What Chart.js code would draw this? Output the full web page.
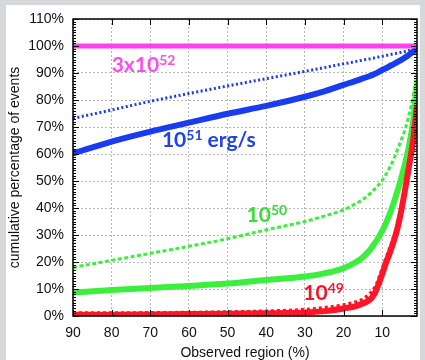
<!DOCTYPE html>
<html>
<head>
<meta charset="utf-8">
<script src="https://cdn.jsdelivr.net/npm/chart.js@4.4.0/dist/chart.umd.min.js"></script>
<style>
html, body { margin: 0; padding: 0; }
body { width: 425px; height: 360px; background: #d6d9dc; position: relative; overflow: hidden; }
#panel { position: absolute; left: 6px; top: 5px; width: 414px; height: 355px; background: #fff; }
#chart { position: absolute; left: 0; top: 0; }
</style>
</head>
<body>
<div id="panel"></div>
<canvas id="chart" width="425" height="360"></canvas>
<script>
// observed region (%) - x axis runs backwards from 90 to 1
const region = [90, 80, 70, 60, 50, 40, 30, 25, 20, 17, 15, 13, 12, 11, 10, 9, 8, 7, 6, 5, 4, 3, 2, 1];
const xTicks = [90, 80, 70, 60, 50, 40, 30, 20, 10];

// cumulative percentage of events, one list per curve
const lum52 = [100, 100, 100, 100, 100, 100, 100, 100, 100, 100, 100, 100, 100, 100, 100, 100, 100, 100, 100, 100, 100, 100, 100, 100];
const lum51Dot = [73.2, 76.3, 79.5, 82.4, 85.2, 87.9, 90.6, 92.0, 93.4, 94.2, 94.8, 95.3, 95.6, 95.9, 96.2, 96.5, 96.8, 97.1, 97.4, 97.7, 98.0, 98.4, 98.9, 99.6];
const lum51 = [60.2, 64.6, 68.3, 71.6, 74.9, 77.8, 81.2, 83.2, 85.6, 87.0, 88.0, 89.0, 89.6, 90.3, 91.1, 91.8, 92.6, 93.3, 94.1, 94.9, 95.8, 96.8, 97.9, 99.2];
const lum50Dash = [18.0, 20.6, 23.2, 25.8, 28.6, 31.9, 35.0, 37.0, 39.3, 41.5, 43.2, 45.5, 47.0, 48.5, 50.2, 52.5, 55.2, 58.2, 61.8, 65.5, 69.5, 75.0, 81.5, 91.0];
const lum50 = [8.7, 9.6, 10.4, 11.1, 12.0, 13.3, 14.6, 15.8, 17.7, 19.8, 21.8, 24.8, 26.8, 29.0, 31.5, 34.5, 38.0, 42.0, 46.5, 51.5, 57.0, 63.5, 72.0, 86.0];
const lum49Dot = [1.0, 1.0, 1.1, 1.2, 1.4, 1.7, 2.3, 3.0, 4.0, 5.0, 6.2, 8.4, 10.2, 13.2, 17.2, 21.2, 25.0, 29.0, 34.0, 40.5, 48.5, 57.0, 66.0, 79.0];
const lum49 = [0.5, 0.5, 0.6, 0.7, 0.8, 1.0, 1.3, 1.8, 2.8, 3.6, 4.6, 6.3, 8.2, 11.5, 15.5, 19.8, 23.5, 27.8, 32.8, 39.5, 47.5, 56.0, 65.0, 78.0];

const MAGENTA = '#ff40ee';
const BLUE = '#1a3cf0';
const GREEN = '#3cef3c';
const RED = '#ff1428';

function pts(vals) {
    return region.map((x, i) => ({ x: x, y: vals[i] }));
}

function line(vals, color, width, dash, order) {
    return {
        data: pts(vals),
        borderColor: color,
        borderWidth: width,
        borderDash: dash || [],
        borderCapStyle: 'butt',
        pointRadius: 0,
        fill: false,
        cubicInterpolationMode: 'monotone',
        order: order
    };
}

// text labels placed in data units (x = region, y = percent at baseline)
const curveLabels = [
    { x: 80.0, y: 90.3, color: '#ff4cee', parts: [['3x10', false], ['52', true]] },
    { x: 67.0, y: 62.5, color: '#1d44ec', parts: [['10', false], ['51', true], [' erg/s', false]] },
    { x: 45.1, y: 34.7, color: '#36e036', parts: [['10', false], ['50', true]] },
    { x: 30.4, y: 5.9, color: '#f0162a', parts: [['10', false], ['49', true]] }
];

const frameAndLabels = {
    id: 'frameAndLabels',
    afterDatasetsDraw(chart) {
        const ctx = chart.ctx;
        const a = chart.chartArea;
        const xs = chart.scales.x;
        const ys = chart.scales.y;
        ctx.save();

        // frame
        ctx.strokeStyle = '#000';
        ctx.lineWidth = 1.5;
        ctx.strokeRect(a.left, a.top, a.right - a.left, a.bottom - a.top);

        // y ticks (major every 10, minor every 1) on both sides
        ctx.lineWidth = 1;
        for (let v = 0; v <= 110; v++) {
            const y = Math.round(ys.getPixelForValue(v)) + 0.5;
            const len = v % 10 === 0 ? 6 : 3;
            ctx.beginPath();
            ctx.moveTo(a.left, y); ctx.lineTo(a.left + len, y);
            ctx.moveTo(a.right, y); ctx.lineTo(a.right - len, y);
            ctx.stroke();
        }
        // x ticks top and bottom
        xTicks.forEach(v => {
            const x = Math.round(xs.getPixelForValue(v)) + 0.5;
            ctx.beginPath();
            ctx.moveTo(x, a.top); ctx.lineTo(x, a.top + 6);
            ctx.moveTo(x, a.bottom); ctx.lineTo(x, a.bottom - 6);
            ctx.stroke();
        });

        // curve labels
        ctx.textBaseline = 'alphabetic';
        ctx.textAlign = 'left';
        curveLabels.forEach(lb => {
            let x = xs.getPixelForValue(lb.x);
            const y = ys.getPixelForValue(lb.y);
            ctx.fillStyle = lb.color;
            lb.parts.forEach(([t, sup]) => {
                ctx.font = sup ? 'bold 14px Lato' : 'bold 21px Lato';
                ctx.fillText(t, x, sup ? y - 7.5 : y);
                x += ctx.measureText(t).width;
            });
        });
        ctx.restore();
    }
};

const tickFont = { family: 'Liberation Sans', size: 14 };

new Chart(document.getElementById('chart'), {
    type: 'line',
    data: {
        datasets: [
            line(lum52, MAGENTA, 5, null, 0),
            line(lum51Dot, BLUE, 3, [2, 2.5], 6),
            line(lum51, BLUE, 6, null, 5),
            line(lum50Dash, GREEN, 3, [4, 2.5], 4),
            line(lum50, GREEN, 6, null, 3),
            line(lum49Dot, RED, 4, [3, 3], 2),
            line(lum49, RED, 6, null, 1)
        ]
    },
    options: {
        responsive: false,
        animation: false,
        layout: { padding: { left: 2, right: 8, top: 19, bottom: 0 } },
        plugins: { legend: { display: false }, tooltip: { enabled: false } },
        scales: {
            x: {
                type: 'linear',
                reverse: true,
                min: 1,
                max: 90,
                afterBuildTicks: s => { s.ticks = xTicks.map(v => ({ value: v })); },
                afterFit: s => { s.height = 44; },
                grid: { color: '#b8b8b8', lineWidth: 1, drawTicks: false },
                border: { display: false, dash: [2, 2] },
                ticks: { font: tickFont, color: '#111', padding: 9, maxRotation: 0 },
                title: {
                    display: true,
                    text: 'Observed region (%)',
                    font: tickFont,
                    color: '#111',
                    padding: { top: 0, bottom: -1.5 }
                }
            },
            y: {
                min: 0,
                max: 110,
                afterFit: s => { s.width = 71; },
                grid: { color: '#b8b8b8', lineWidth: 1, drawTicks: false },
                border: { display: false, dash: [2, 2] },
                ticks: { stepSize: 10, font: tickFont, color: '#111', padding: 9, callback: v => v + '%' },
                title: {
                    display: true,
                    text: 'cumulative percentage of events',
                    font: tickFont,
                    color: '#111',
                    padding: { top: 5, bottom: 0 }
                }
            }
        }
    },
    plugins: [frameAndLabels]
});
</script>
</body>
</html>
